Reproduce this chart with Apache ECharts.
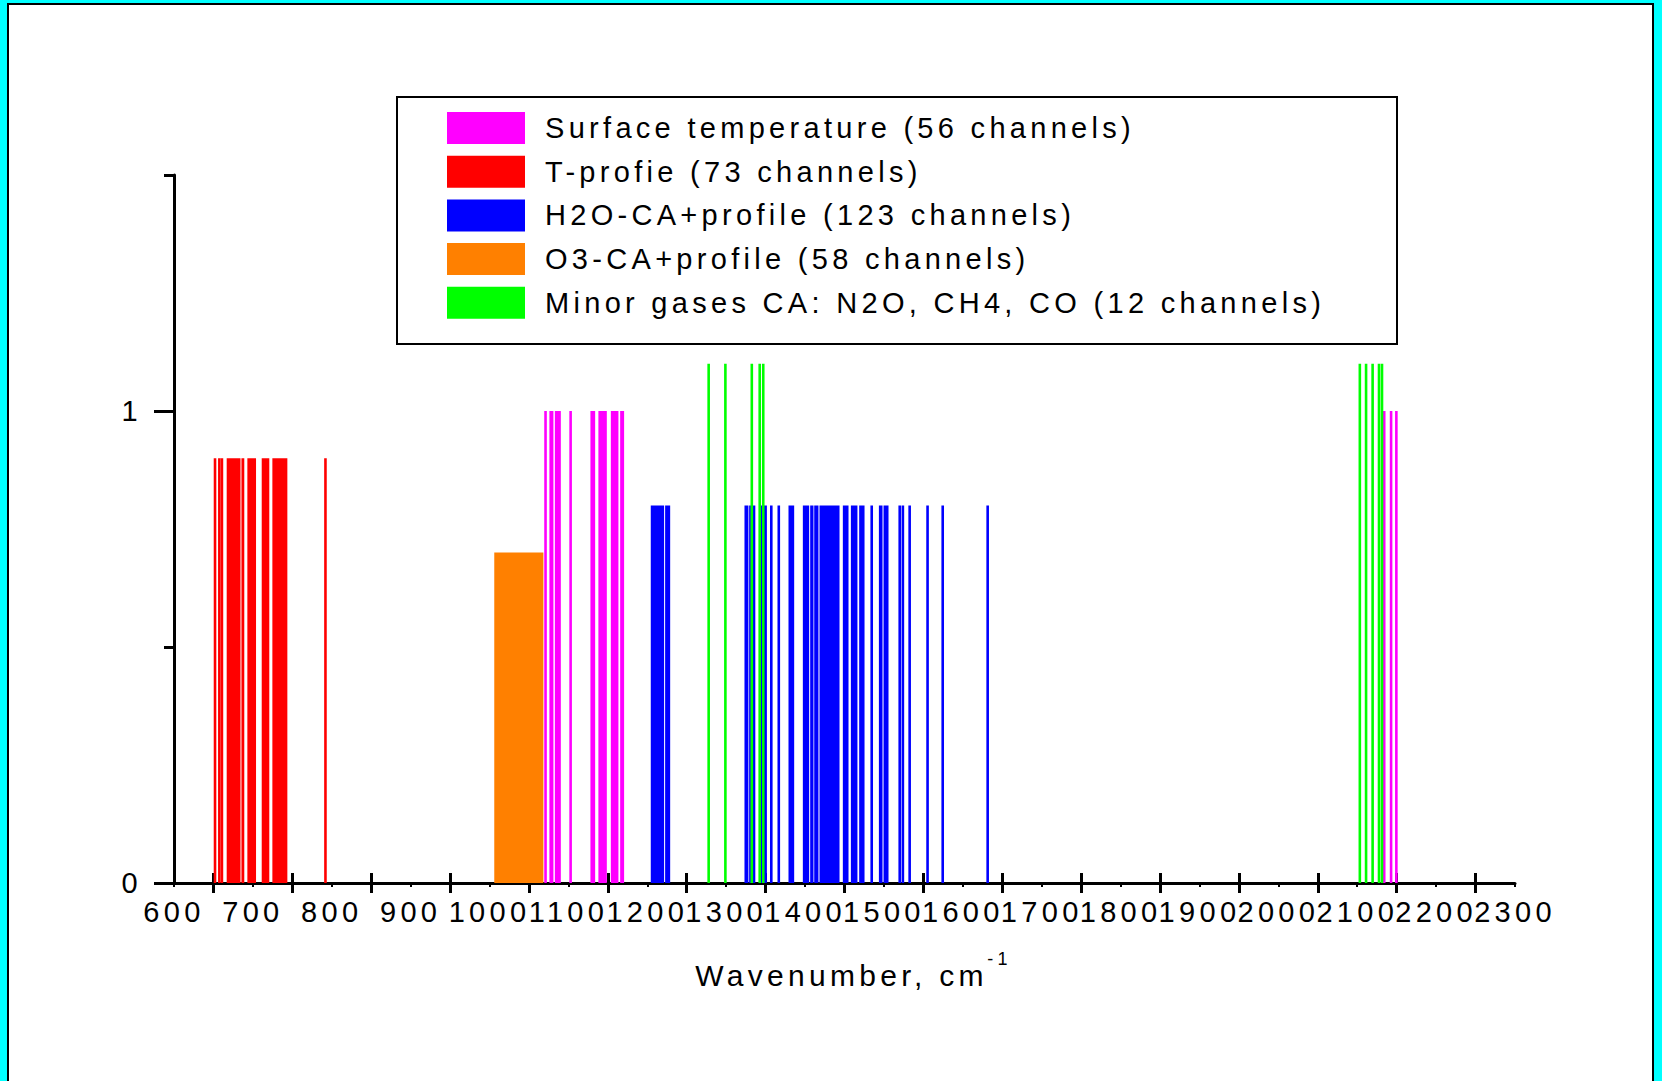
<!DOCTYPE html>
<html>
<head>
<meta charset="utf-8">
<script src="https://cdn.jsdelivr.net/npm/echarts@6/dist/echarts.min.js"></script>
<style>
html, body { margin: 0; padding: 0; background: #00FFFF; overflow: hidden; }
#chart { width: 1662px; height: 1081px; }
#chart text { letter-spacing: 4.3px; }
</style>
</head>
<body>
<div id="chart"></div>
<script>
// ---------- data ----------
const xLabelValues = [600, 700, 800, 900, 1000, 1100, 1200, 1300, 1400, 1500, 1600, 1700, 1800, 1900, 2000, 2100, 2200, 2300];
const xMajorTickValues = [650, 750, 850, 950, 1050, 1150, 1250, 1350, 1450, 1550, 1650, 1750, 1850, 1950, 2050, 2150, 2250];
const yLabelValues = [0, 1];
const yMinorTickValues = [0.5, 1.5];

const seriesNames = [
  'Surface temperature (56 channels)',
  'T-profie (73 channels)',
  'H2O-CA+profile (123 channels)',
  'O3-CA+profile (58 channels)',
  'Minor gases CA: N2O, CH4, CO (12 channels)'
];
const seriesColors = ['#FF00FF', '#FF0000', '#0000FF', '#FF8000', '#00FF00'];
const levels = [1.0, 0.9, 0.8, 0.7, 1.1];

// channel positions / contiguous channel spans [from, to] in cm-1
const surfaceSpans = [[1071, 1071], [1075.9, 1081], [1082.8, 1090.4], [1102.8, 1102.8], [1127.9, 1133.9],
  [1138, 1148.7], [1153.8, 1163.4], [1165.6, 1170.6], [2134.2, 2134.2], [2142.9, 2142.9], [2149.6, 2149.6]];
const tProfileSpans = [[652, 652], [657.5, 657.5], [659.5, 662], [666.8, 684.3], [685.5, 689.1], [693, 704],
  [711.2, 720.8], [724.7, 743.7], [792, 792]];
const h2oSpans = [[1204.4, 1221.3], [1222.6, 1229], [1323.2, 1328.2], [1329.5, 1332], [1333.8, 1336.8],
  [1344, 1351.6], [1357.2, 1357.2], [1366.7, 1366.7], [1379, 1386.2], [1397.2, 1405.2], [1406.5, 1410.7],
  [1411.6, 1417], [1418.3, 1443.7], [1447.9, 1455.1], [1458.1, 1466.4], [1468.6, 1475.4], [1484.5, 1484.5],
  [1493.6, 1498.2], [1499.5, 1505.8], [1520, 1520], [1524, 1524], [1532.6, 1532.6], [1555.3, 1555.3],
  [1574.5, 1574.5], [1631.5, 1631.5]];
const o3Spans = [[1006, 1068.3]];
const minorGasSpans = [[1277.8, 1277.8], [1299, 1299], [1332.5, 1332.5], [1342.5, 1342.5], [1347, 1347],
  [2103.3, 2103.3], [2111.2, 2111.2], [2119.5, 2119.5], [2127.6, 2127.6], [2131.4, 2131.4]];

const spansList = [surfaceSpans, tProfileSpans, h2oSpans, o3Spans, minorGasSpans];

// ---------- style ----------
const FONT = "'Liberation Sans', Arial, sans-serif";
const FS = 29;
const LINE_W = 2.6;
const GRID = { left: 174, top: 175, width: 1341, height: 708 };

const chart = echarts.init(document.getElementById('chart'), null, { renderer: 'svg' });

const series = seriesNames.map((name, i) => ({
  type: 'custom',
  name: name,
  xAxisIndex: 0,
  yAxisIndex: 0,
  itemStyle: { color: seriesColors[i] },
  data: spansList[i],
  renderItem: function (params, api) {
    const top = api.coord([api.value(0), levels[i]]);
    const bottom = api.coord([api.value(1), 0]);
    let x0 = top[0], x1 = bottom[0];
    if (x1 - x0 < LINE_W) {
      const c = (x0 + x1) / 2;
      x0 = c - LINE_W / 2;
      x1 = c + LINE_W / 2;
    }
    return {
      type: 'rect',
      shape: { x: x0, y: top[1], width: x1 - x0, height: bottom[1] - top[1] },
      style: { fill: seriesColors[i] }
    };
  }
}));

const axisFont = { color: '#000', fontSize: FS, fontFamily: FONT };
const plainNumber = v => String(v);

const option = {
  backgroundColor: '#00FFFF',
  animation: false,
  graphic: [
    { type: 'rect', z: -10, shape: { x: 8, y: 4, width: 1645, height: 1100 },
      style: { fill: '#FFFFFF', stroke: '#000', lineWidth: 2 } },
    { type: 'rect', z: 10, shape: { x: 397, y: 97, width: 1000, height: 247 },
      style: { fill: 'none', stroke: '#000', lineWidth: 2 } }
  ],
  grid: [Object.assign({}, GRID), Object.assign({}, GRID), Object.assign({}, GRID)],
  legend: {
    orient: 'vertical', left: 447, top: 112, padding: 0,
    itemWidth: 78, itemHeight: 32, itemGap: 11.7,
    icon: 'rect', selectedMode: false,
    data: seriesNames,
    textStyle: { color: '#000', fontSize: FS, fontFamily: FONT, padding: [0, 0, 0, 15] }
  },
  xAxis: [
    {
      gridIndex: 0, type: 'value', min: 600, max: 2300,
      splitLine: { show: false },
      axisLine: { show: true, lineStyle: { color: '#000', width: 3 } },
      axisTick: { show: true, customValues: xMajorTickValues, length: 10, inside: false, lineStyle: { color: '#000', width: 3 } },
      axisLabel: Object.assign({ customValues: xLabelValues, margin: 14, formatter: plainNumber }, axisFont),
      name: '{t|Wavenumber, cm}{s|-1}',
      nameLocation: 'middle', nameGap: 67,
      nameTextStyle: {
        padding: [0, 0, 0, 44],
        rich: {
          t: { fontSize: 30, fontFamily: FONT, color: '#000', lineHeight: 40, verticalAlign: 'bottom' },
          s: { fontSize: 18, fontFamily: FONT, color: '#000', verticalAlign: 'top', padding: [0, 0, 0, 34] }
        }
      }
    },
    {
      gridIndex: 1, type: 'value', min: 600, max: 2300,
      splitLine: { show: false }, axisLine: { show: false }, axisLabel: { show: false },
      axisTick: { show: true, customValues: xMajorTickValues, length: 10, inside: true, lineStyle: { color: '#000', width: 3 } }
    },
    {
      gridIndex: 2, type: 'value', min: 600, max: 2300,
      splitLine: { show: false }, axisLine: { show: false }, axisLabel: { show: false },
      axisTick: { show: true, customValues: xLabelValues, length: 4, inside: false, lineStyle: { color: '#000', width: 2 } }
    }
  ],
  yAxis: [
    {
      gridIndex: 0, type: 'value', min: 0, max: 1.5,
      splitLine: { show: false },
      axisLine: { show: true, lineStyle: { color: '#000', width: 3 } },
      axisTick: { show: true, customValues: yLabelValues, length: 20, lineStyle: { color: '#000', width: 3 } },
      axisLabel: Object.assign({ customValues: yLabelValues, margin: 32, formatter: plainNumber }, axisFont)
    },
    {
      gridIndex: 1, type: 'value', min: 0, max: 1.5,
      splitLine: { show: false }, axisLine: { show: false }, axisLabel: { show: false },
      axisTick: { show: true, customValues: yMinorTickValues, length: 10, lineStyle: { color: '#000', width: 3 } }
    },
    {
      gridIndex: 2, type: 'value', min: 0, max: 1.5, show: false
    }
  ],
  series: series
};

chart.setOption(option);
</script>
</body>
</html>
